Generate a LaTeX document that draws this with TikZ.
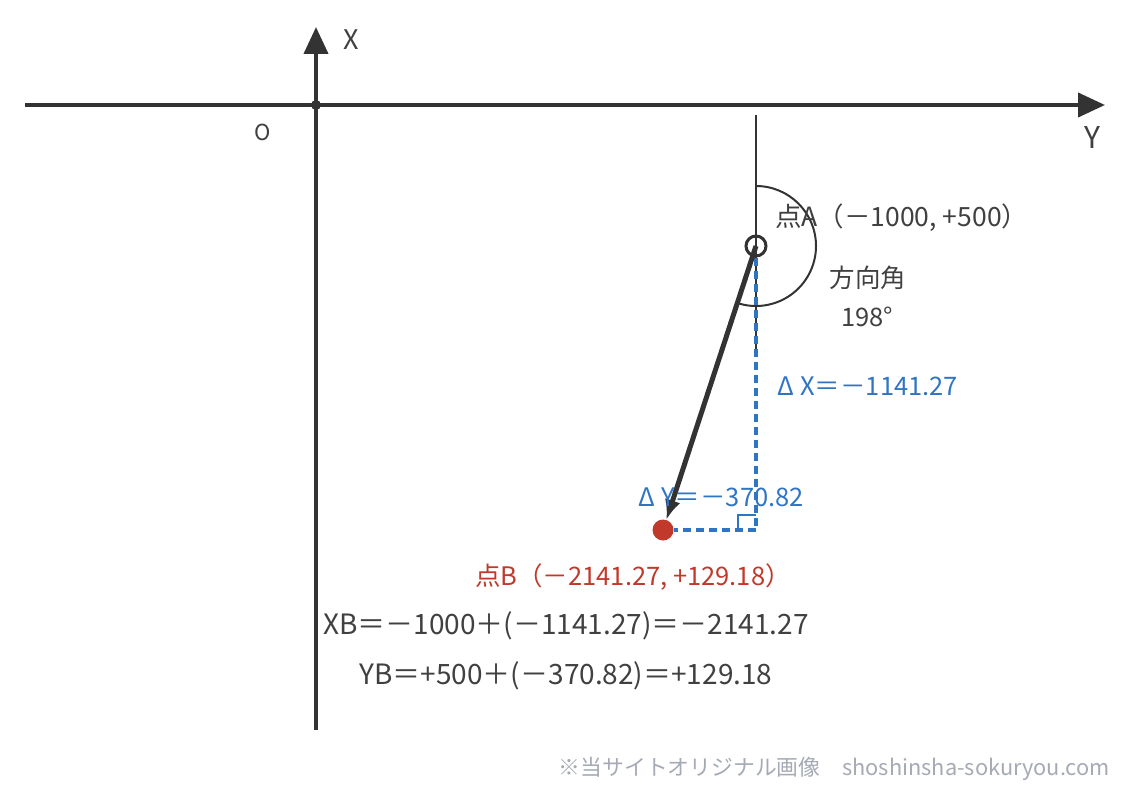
\documentclass[tikz,border=0pt]{standalone}
\usepackage{fontspec}
\setmainfont{Noto Sans CJK JP}
\usepackage{tikz}
\usetikzlibrary{calc, arrows, arrows.meta, positioning}
\tikzset{>=latex}
\definecolor{mydark}{RGB}{51, 51, 51}
\definecolor{mytext}{RGB}{64, 64, 64}
\definecolor{myred}{RGB}{192, 57, 43}
\definecolor{myblue}{RGB}{46, 117, 196}
\definecolor{mygray}{RGB}{165, 170, 180}
\tikzset{
  axis/.style = {draw = mydark, line width = 4pt, -{Triangle[length = 27pt, width = 24pt]}},
  lbl/.style = {text = mytext, font = \fontsize{25.5}{28}\selectfont, inner sep = 0pt},
  bluelbl/.style = {text = myblue, font = \fontsize{25.5}{28}\selectfont, inner sep = 0pt},
  redlbl/.style = {text = myred, font = \fontsize{25.5}{28}\selectfont, inner sep = 0pt},
  eqlbl/.style = {text = mytext, font = \fontsize{28}{31}\selectfont, inner sep = 0pt},
  bluedash/.style = {draw = myblue, line width = 3.5pt, dash pattern = on 8pt off 5pt}
}

\begin{document}
\begin{tikzpicture}[x = 1pt, y = -1pt]

\useasboundingbox (0, 0) rectangle (1126, 792); % for the frame

% axes
\begin{scope}
\coordinate (O) at (316, 105);
\coordinate (west) at (25, 105);
\coordinate (east) at (1105, 105);
\coordinate (south) at (316, 730);
\coordinate (north) at (316, 27);
\draw[axis] (west) -- (east);
\draw[axis] (south) -- (north);
\fill[mydark] (O) circle (5);
\node[lbl, font = \fontsize{22}{24}\selectfont] (olabel) at (263, 132) {O};
\node[lbl, font = \fontsize{27}{29}\selectfont] (xlabel) at (351, 40) {X};
\node[lbl, font = \fontsize{30}{32}\selectfont] (ylabel) at (1092, 138) {Y};
\end{scope}

% point A, direction angle
\begin{scope}
\coordinate (Anorth) at (756, 115);
\coordinate (Abelow) at (756, 350);
\draw[mydark, line width = 2pt] (Anorth) -- (Abelow);
\draw[mydark, line width = 2pt] (756, 186) arc[start angle = -90, end angle = 108, radius = 60];
\node[draw = mydark, line width = 3pt, circle, minimum size = 20pt, inner sep = 0pt] (A) at (756, 246) {};
\node[lbl, font = \fontsize{26.5}{29}\selectfont, anchor = west] (alabel) at (775, 218) {点A（－1000, +500）};
\node[lbl] (anglelabel) at (868, 278) {方向角};
\node[lbl] (anglevalue) at (867, 317) {198°};
\end{scope}

% point B, differences
\begin{scope}
\coordinate (C) at (756, 530);
\node[circle, fill = myred, minimum size = 21pt, inner sep = 0pt] (B) at (663, 530) {};
\draw[bluedash] (A.south) -- (C);
\draw[bluedash] (C) -- (B);
\draw[myblue, line width = 2pt] ($(C) + (-18, 0)$) -- ++(0, -15) -- ++(18, 0);
\draw[mydark, line width = 5pt, -{Latex[length = 20pt, width = 16pt]}] (A.center) -- (B);
\node[bluelbl, anchor = west] (dxlabel) at (777, 386) {Δ\hspace{0.25em}X＝－1141.27};
\node[bluelbl, anchor = west] (dylabel) at (638, 497) {Δ\hspace{0.25em}Y＝－370.82};
\node[redlbl] (blabel) at (633, 577) {点B（－2141.27, +129.18）};
\end{scope}

% results
\node[eqlbl] (xbeq) at (566, 626) {XB＝－1000＋(－1141.27)＝－2141.27};
\node[eqlbl] (ybeq) at (566, 676) {YB＝+500＋(－370.82)＝+129.18};
\node[lbl, text = mygray, font = \fontsize{21.8}{24}\selectfont, anchor = east] (credit) at (1110, 769) {※当サイトオリジナル画像　shoshinsha-sokuryou.com};

\end{tikzpicture}
\end{document}
